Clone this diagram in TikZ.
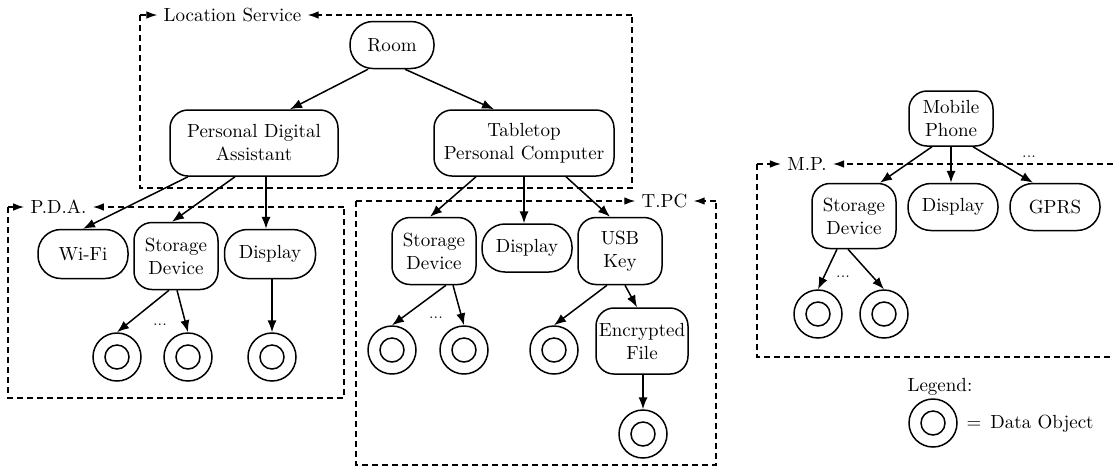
\documentclass[tikz,border=0pt]{standalone}
\usetikzlibrary{arrows.meta}
\begin{document}
\begin{tikzpicture}[x=0.5pt,y=-0.5pt,
  every node/.style={font=\fontsize{9.5}{11.5}\selectfont},
  nd/.style={draw, line width=0.75pt, rounded corners=9pt, align=center, inner sep=0pt},
  pill/.style={nd, rounded corners=11.5pt},
  dobj/.style={draw, circle, line width=0.75pt, minimum size=24pt, inner sep=0pt,
    path picture={\draw[line width=0.75pt] (path picture bounding box.center) circle (6pt);}},
  grp/.style={dash pattern=on 3pt off 2pt, line width=0.65pt},
  ttl/.style={inner sep=3pt},
  arr/.style={-{Latex[length=6pt,width=4.6pt]}, line width=0.75pt},
  garr/.style={grp, -{Latex[length=5.5pt,width=3.8pt]}},
  dotsn/.style={font=\scriptsize, inner sep=0pt}
]
\useasboundingbox (0,0) rectangle (1113,468);

% ---------- group frames ----------
\coordinate (lsNW) at (140,15);  \coordinate (lsNE) at (632,15);
\coordinate (lsSW) at (140,188); \coordinate (lsSE) at (632,188);
\node[ttl] (lsT) at (232.5,15) {Location Service};
\draw[garr] (lsNW) -- (lsT.west);
\draw[garr] (lsNE) -- (lsT.east);
\draw[grp] (lsNW) -- (lsSW) -- (lsSE) -- (lsNE);

\coordinate (paNW) at (8,207);  \coordinate (paNE) at (344,207);
\coordinate (paSW) at (8,398);  \coordinate (paSE) at (344,398);
\node[ttl] (paT) at (58.5,207) {P.D.A.};
\draw[garr] (paNW) -- (paT.west);
\draw[garr] (paNE) -- (paT.east);
\draw[grp] (paNW) -- (paSW) -- (paSE) -- (paNE);

\coordinate (tpNW) at (356,201);  \coordinate (tpNE) at (716,201);
\coordinate (tpSW) at (356,465);  \coordinate (tpSE) at (716,465);
\node[ttl] (tpT) at (664.5,201) {T.PC};
\draw[garr] (tpNW) -- (tpT.west);
\draw[garr] (tpNE) -- (tpT.east);
\draw[grp] (tpNW) -- (tpSW) -- (tpSE) -- (tpNE);

\coordinate (mpNW) at (757,164);  \coordinate (mpNE) at (1113,164);
\coordinate (mpSW) at (757,357);  \coordinate (mpSE) at (1113,357);
\node[ttl] (mpT) at (807,164) {M.P.};
\draw[garr] (mpNW) -- (mpT.west);
\draw[garr] (mpNE) -- (mpT.east);
\draw[grp] (mpNW) -- (mpSW) -- (mpSE);

% ---------- nodes ----------
\node[pill, minimum width=42pt, minimum height=23.5pt] (room) at (392,45) {Room};
\node[nd, minimum width=84pt, minimum height=33pt] (pda) at (254,143) {Personal Digital\\Assistant};
\node[nd, minimum width=90pt, minimum height=33pt] (tpc) at (524,143) {Tabletop\\Personal Computer};

\node[pill, minimum width=45pt, minimum height=24.5pt] (wifi) at (83,254) {Wi-Fi};
\node[nd, minimum width=42pt, minimum height=33.5pt] (pstor) at (176,256) {Storage\\Device};
\node[pill, minimum width=45.5pt, minimum height=24.5pt] (pdisp) at (270,254) {Display};

\node[nd, minimum width=42pt, minimum height=33.5pt] (tstor) at (434,251) {Storage\\Device};
\node[pill, minimum width=45pt, minimum height=24pt] (tdisp) at (527,248) {Display};
\node[nd, minimum width=42pt, minimum height=33.5pt] (usb) at (620,251) {USB\\Key};
\node[nd, minimum width=46pt, minimum height=33pt] (enc) at (642,341) {Encrypted\\File};

\node[nd, minimum width=42pt, minimum height=27.5pt] (mp) at (951,118.5) {Mobile\\Phone};
\node[nd, minimum width=42pt, minimum height=32.5pt] (mstor) at (854,216) {Storage\\Device};
\node[pill, minimum width=45pt, minimum height=23.5pt] (mdisp) at (953,207) {Display};
\node[pill, minimum width=45pt, minimum height=23.5pt] (gprs) at (1055,207) {GPRS};

% data objects
\node[dobj] (pc1) at (117,357) {};
\node[dobj] (pc2) at (188,357) {};
\node[dobj] (pc3) at (272,357) {};
\node[dobj] (tc1) at (392,350) {};
\node[dobj] (tc2) at (464,350) {};
\node[dobj] (tc3) at (554,350) {};
\node[dobj] (tc4) at (643,434) {};
\node[dobj] (mc1) at (818,314) {};
\node[dobj] (mc2) at (884,314) {};

% dots
\node[dotsn] (pdots) at (160,325) {...};
\node[dotsn] (tdots) at (436,318) {...};
\node[dotsn] (mdots) at (843,277) {...};
\node[dotsn] (mtdots) at (1029,157) {...};

% legend
\node (legT) at (940,387) {Legend:};
\node[dobj] (legC) at (933,423) {};
\node (legEq) at (974,425) {=};
\node (legD) at (1042,424) {Data Object};

% ---------- edges ----------
\draw[arr] ([xshift=-12pt]room.south) -- ([xshift=18pt]pda.north);
\draw[arr] ([xshift=6.5pt]room.south) -- ([xshift=-15pt]tpc.north);

\draw[arr] ([xshift=-33pt]pda.south) -- (wifi.north);
\draw[arr] ([xshift=-9.5pt]pda.south) -- ([xshift=-2pt]pstor.north);
\draw[arr] ([xshift=6pt]pda.south) -- ([xshift=-2pt]pdisp.north);

\draw[arr] ([xshift=-24pt]tpc.south) -- ([xshift=-2pt]tstor.north);
\draw[arr] (tpc.south) -- (tpc.south |- tdisp.north);
\draw[arr] ([xshift=21pt]tpc.south) -- ([xshift=-5pt]usb.north);

\draw[arr] ([xshift=-3.5pt]pstor.south) -- (pc1.north);
\draw[arr] ([xshift=0.5pt]pstor.south) -- (pc2.north);
\draw[arr] (pc3.north |- pdisp.south) -- (pc3.north);

\draw[arr] ([xshift=6pt]tstor.south) -- (tc1.north);
\draw[arr] ([xshift=9.5pt]tstor.south) -- (tc2.north);
\draw[arr] ([xshift=-6.5pt]usb.south) -- (tc3.north);
\draw[arr] ([xshift=2.5pt]usb.south) -- ([xshift=-2.5pt]enc.north);
\draw[arr] (tc4.north |- enc.south) -- (tc4.north);

\draw[arr] ([xshift=-9.5pt]mp.south) -- ([xshift=13pt]mstor.north);
\draw[arr] (mp.south) -- (mp.south |- mdisp.north);
\draw[arr] ([xshift=11pt]mp.south) -- ([xshift=-11pt]gprs.north);
\draw[arr] ([xshift=-8.5pt]mstor.south) -- (mc1.north);
\draw[arr] ([xshift=-3pt]mstor.south) -- (mc2.north);
\end{tikzpicture}
\end{document}
